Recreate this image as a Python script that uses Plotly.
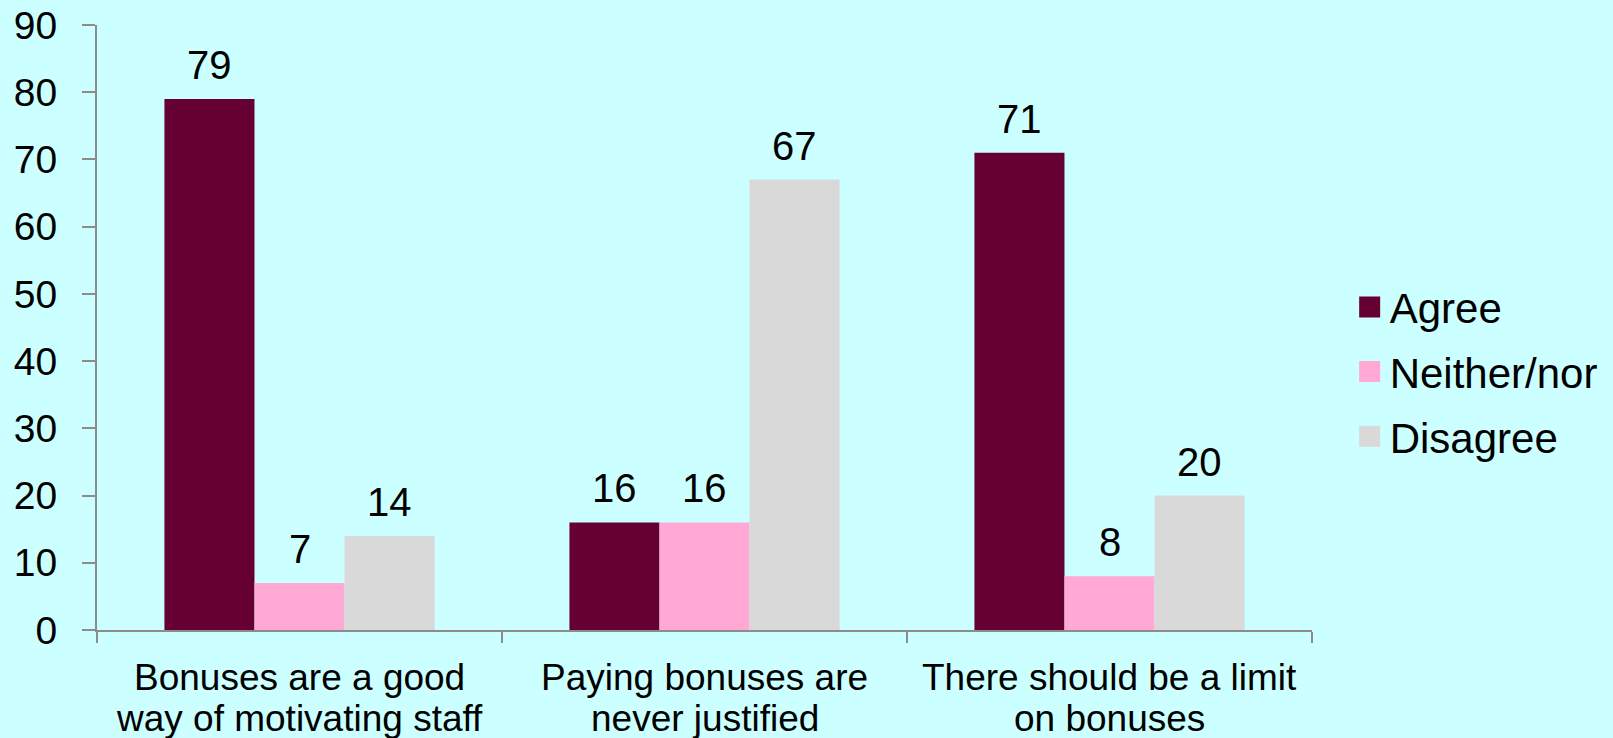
import plotly.graph_objects as go

categories = [
    "Bonuses are a good<br>way of motivating staff",
    "Paying bonuses are<br>never justified",
    "There should be a limit<br>on bonuses",
]
series_names = ["Agree", "Neither/nor", "Disagree"]
agree = [79, 16, 71]
neither = [7, 16, 8]
disagree = [14, 67, 20]
y_ticks = [0, 10, 20, 30, 40, 50, 60, 70, 80, 90]

colors = ["#660033", "#FFA9D4", "#D9D9D9"]
values = [agree, neither, disagree]
FONT = "Liberation Sans, Arial, sans-serif"
BAR_PX = 90        # pixel width of one bar (style)
LINE_SHIFTS = [-47, -88]  # pixel offsets of category label lines below axis

fig = go.Figure()
for i, (name, vals, col) in enumerate(zip(series_names, values, colors)):
    fig.add_trace(go.Bar(
        x=categories, y=vals, name=name, marker_color=col,
        marker_line_width=0, showlegend=False,
    ))
    for cat, v in zip(categories, vals):
        fig.add_annotation(
            x=cat, y=v, text=str(v), showarrow=False,
            xshift=(i - 1) * BAR_PX, yanchor="bottom", yshift=10,
            font=dict(size=40, color="black", family=FONT),
        )
# category labels (two lines, tighter line spacing than tick labels allow)
for cat in categories:
    for line, shift in zip(cat.split("<br>"), LINE_SHIFTS):
        fig.add_annotation(
            x=cat, y=0, text=line, showarrow=False,
            yanchor="middle", yshift=shift,
            font=dict(size=37, color="black", family=FONT),
        )
# legend proxies (larger square swatches)
for i, (name, col) in enumerate(zip(series_names, colors)):
    fig.add_trace(go.Scatter(
        x=[None], y=[None], mode="markers", name=name,
        marker=dict(symbol="square", size=16, color=col,
                    line=dict(color=col, width=5)),
        legendgroup=f"g{i}", showlegend=True,
    ))

axis_col = "#8C8C8C"
fig.update_layout(
    width=1613, height=738,
    paper_bgcolor="#CCFFFF", plot_bgcolor="#CCFFFF",
    margin=dict(l=97, r=301, t=25, b=108, autoexpand=False),
    barmode="group", bargap=0.333, bargroupgap=0,
    font=dict(family=FONT, color="black"),
    legend=dict(
        x=1.031, xanchor="left", y=0.427, yanchor="middle",
        font=dict(size=42, family=FONT, color="black"),
        bgcolor="rgba(0,0,0,0)", tracegroupgap=7,
        traceorder="grouped", itemsizing="trace",
    ),
    showlegend=True,
)
fig.update_yaxes(
    range=[0, 90], tickvals=y_ticks, showgrid=False, zeroline=False,
    showline=True, linecolor=axis_col, linewidth=2, automargin=False,
    ticks="outside", ticklen=13, tickwidth=2, tickcolor=axis_col,
    ticklabelstandoff=17,
    tickfont=dict(size=39, family=FONT, color="black"),
)
fig.update_xaxes(
    showgrid=False, showline=True, linecolor=axis_col, linewidth=2,
    automargin=False, showticklabels=False,
    ticks="outside", tickson="boundaries", ticklen=11, tickwidth=2,
    tickcolor=axis_col,
)
fig.write_html(
    "out.html",
    config={"displayModeBar": False},
    post_script="document.body.style.margin='0';document.body.style.overflow='hidden';",
)
